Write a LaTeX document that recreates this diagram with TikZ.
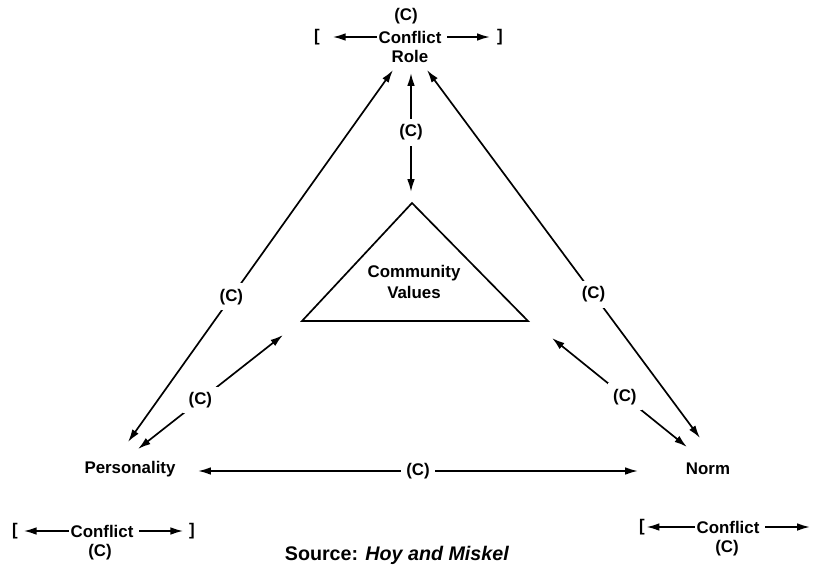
\documentclass[tikz,border=0pt]{standalone}
\usepackage{fontspec}
\setmainfont{Liberation Sans}
\usetikzlibrary{arrows.meta,positioning}

\begin{document}
\begin{tikzpicture}[
  x=0.025cm, y=-0.025cm,
  label/.style={font=\bfseries\fontsize{12}{15}\selectfont, inner sep=1pt},
  cmark/.style={label, fill=white, inner sep=4pt},
  link/.style={{Latex[length=3.2mm,width=1.9mm]}-{Latex[length=3.2mm,width=1.9mm]}, line width=1.2pt},
  onearrow/.style={-{Latex[length=3.2mm,width=1.9mm]}, line width=1.2pt}
]
\useasboundingbox (0,0) rectangle (816,568);

% the three corners
\node[label] (role) at (410,56) {Role};
\node[label] (pers) at (130,469) {Personality};
\node[label] (norm) at (708,469) {Norm};

% community values triangle
\coordinate (cvtop) at (412,203);
\coordinate (cvleft) at (302,321);
\coordinate (cvright) at (528,321);
\draw[line width=1.2pt] (cvtop) -- (cvleft) -- (cvright) -- cycle;
\node[label, align=center] (cv) at (414,282) {Community\\Values};

% arrow ends
\coordinate (role-l) at (393,70);
\coordinate (role-r) at (427,70);
\coordinate (role-b) at (411,73);
\coordinate (pers-u) at (128,442);
\coordinate (pers-i) at (138,449);
\coordinate (pers-r) at (198,471);
\coordinate (norm-u) at (700,438);
\coordinate (norm-i) at (687,447);
\coordinate (norm-l) at (638,471);
\coordinate (cv-l) at (283,335);
\coordinate (cv-r) at (552,338);
\coordinate (cv-t) at (411,192);

\draw[link] (pers-u) -- node[cmark, pos=0.39] {(C)} (role-l);
\draw[link] (role-r) -- node[cmark, pos=0.61] {(C)} (norm-u);
\draw[link] (pers-i) -- node[cmark, pos=0.43] {(C)} (cv-l);
\draw[link] (cv-r) -- node[cmark, pos=0.54] {(C)} (norm-i);
\draw[link] (pers-r) -- node[cmark, pos=0.5] {(C)} (norm-l);
\draw[link] (role-b) -- node[cmark, pos=0.5] {(C)} (cv-t);

% conflict within role
\node[label] (topc) at (406,16) {(C)};
\node[label] (topconf) at (410,37) {Conflict};
\node[label] (topl) at (317,37) {[};
\node[label] (topr) at (500,37) {]};
\draw[onearrow, shorten >=8pt] (topconf.west) -- (topl.east);
\draw[onearrow, shorten <=3pt, shorten >=4pt] (topconf.east) -- (topr.west);

% conflict within personality
\node[label] (lconf) at (102,531) {Conflict};
\node[label] (lc) at (100,552) {(C)};
\node[label] (ll) at (15,531) {[};
\node[label] (lr) at (192,531) {]};
\draw[onearrow, shorten >=3pt] (lconf.west) -- (ll.east);
\draw[onearrow, shorten <=3pt, shorten >=3pt] (lconf.east) -- (lr.west);

% conflict within norm
\node[label] (rconf) at (728,527) {Conflict};
\node[label] (rc) at (727,548) {(C)};
\node[label] (rl) at (642,527) {[};
\coordinate (rend) at (810,527);
\draw[onearrow] (rconf.west) -- (rl.east);
\draw[onearrow, shorten <=3pt] (rconf.east) -- (rend);

\node[font=\bfseries\fontsize{14}{16}\selectfont] (src) at (397,555) {Source: \textit{Hoy and Miskel}};
\end{tikzpicture}
\end{document}
